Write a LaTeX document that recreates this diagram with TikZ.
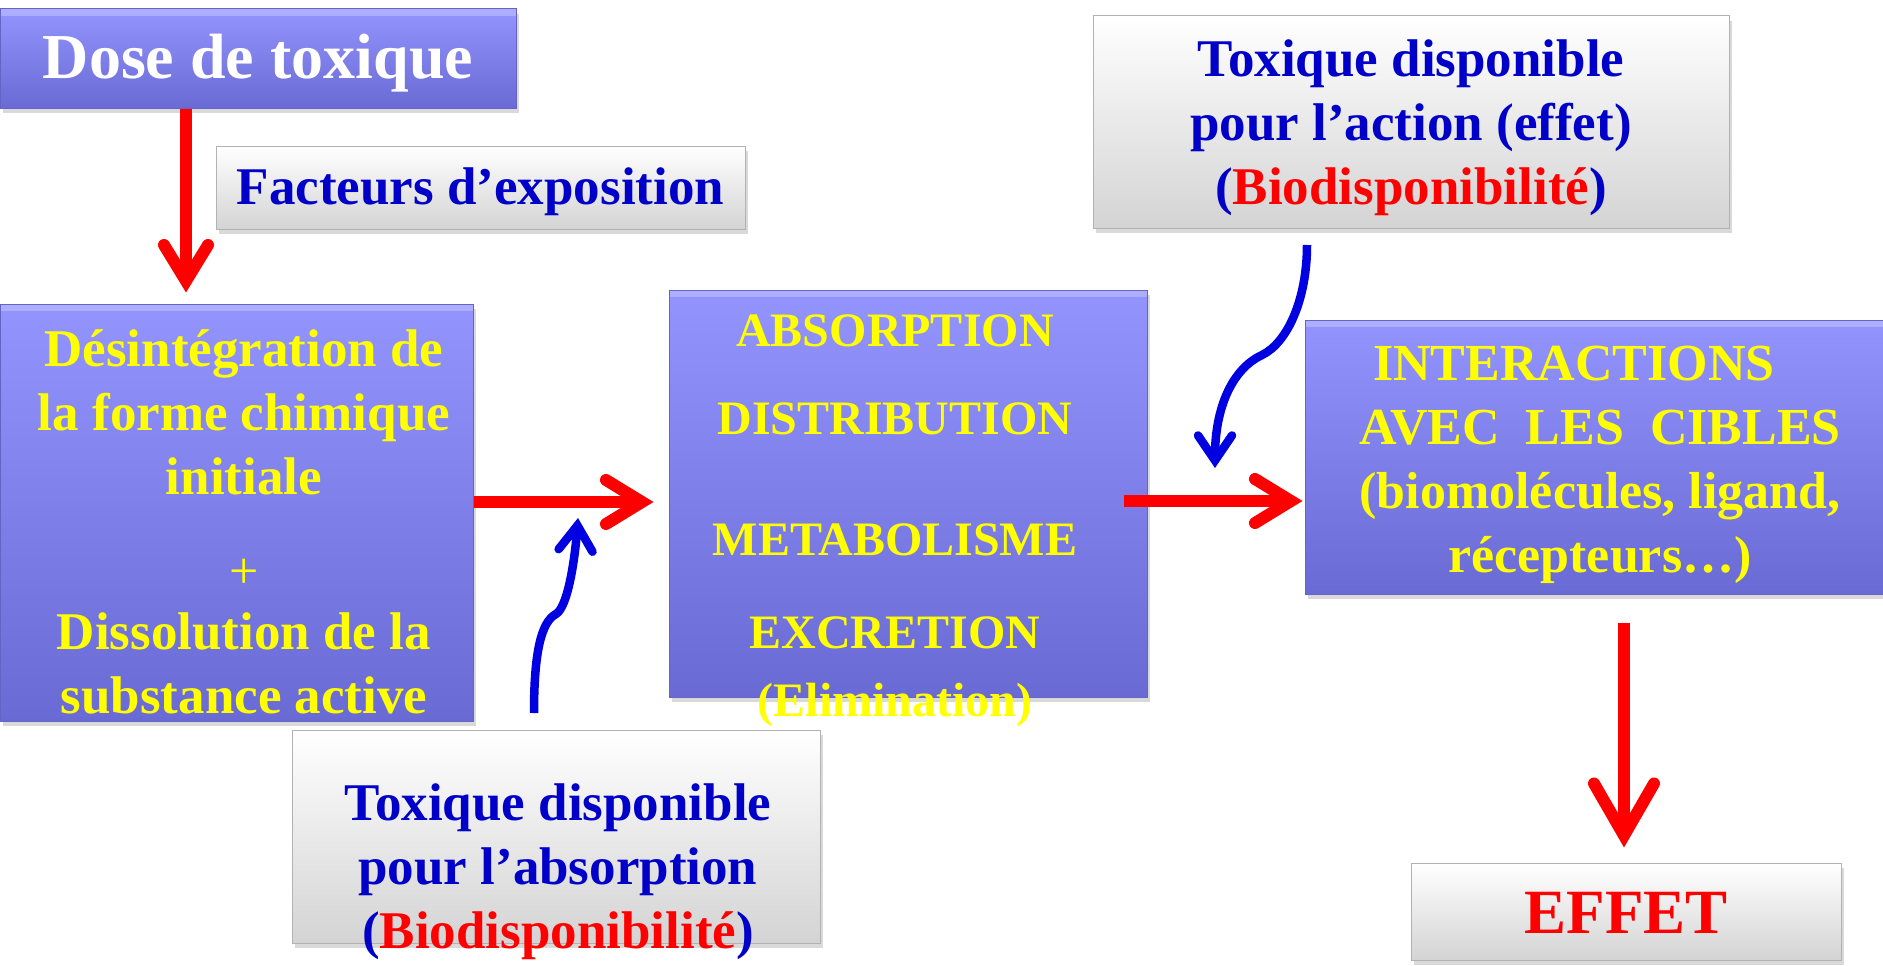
\documentclass[tikz,border=0pt]{standalone}
\usepackage{fontspec}
\setmainfont{Liberation Serif}
\usetikzlibrary{arrows.meta,shadows}
\definecolor{boxtop}{RGB}{148,148,255}
\definecolor{boxbot}{RGB}{106,106,212}
\definecolor{boxline}{RGB}{100,100,196}
\definecolor{txtblue}{RGB}{0,0,200}
\definecolor{txtyellow}{RGB}{255,255,0}
\definecolor{arrred}{RGB}{255,0,0}
\definecolor{arrblue}{RGB}{0,0,225}
\begin{document}
\begin{tikzpicture}[x=1pt,y=-1pt,
  pb/.style={draw=boxline,line width=1pt,top color=boxtop,bottom color=boxbot,inner sep=0pt,
    drop shadow={shadow xshift=3pt,shadow yshift=-5pt,opacity=.3},
    path picture={\fill[white,opacity=.25] (path picture bounding box.north west) rectangle ([yshift=-7pt]path picture bounding box.north east);}},
  wb/.style={draw=black!30,line width=1pt,top color=white,bottom color=black!17,inner sep=0pt,
    drop shadow={shadow xshift=3pt,shadow yshift=-5pt,opacity=.3}},
  yt/.style={text=txtyellow,font=\bfseries\fontsize{53}{64}\selectfont,align=center,inner sep=0pt},
  bt/.style={text=txtblue,font=\bfseries\fontsize{53}{64}\selectfont,align=center,inner sep=0pt},
  redarr/.style={draw=arrred,line width=12pt,-{Straight Barb[length=36pt,width=44pt,line cap=round,line join=miter]}},
  bluearr/.style={draw=arrblue,line width=8.5pt,-{Straight Barb[length=25pt,width=34pt,line cap=round,line join=miter]}}]
  \useasboundingbox (0,0) rectangle (1883,966);
  % boites
  \node[pb,minimum width=516pt,minimum height=99pt,text=white,font=\bfseries\fontsize{64}{76}\selectfont,text height=48pt,text depth=7pt] (dose) at (258,58.5){Dose de toxique};
  \node[wb,minimum width=529pt,minimum height=83pt,text=txtblue,font=\bfseries\fontsize{53}{64}\selectfont,text height=40pt,text depth=7pt] (fact) at (480.5,187.5){Facteurs d’exposition};
  \node[pb,minimum width=473pt,minimum height=417pt] (desint) at (236.5,512.5){};
  \node[pb,minimum width=478pt,minimum height=407pt] (mid) at (908,493.5){};
  \node[pb,minimum width=578pt,minimum height=274pt] (inter) at (1594,457){};
  \node[wb,minimum width=636pt,minimum height=212pt] (action) at (1411,122){};
  \node[wb,minimum width=528pt,minimum height=213pt] (absorb) at (556,836.5){};
  \node[wb,minimum width=430pt,minimum height=97pt,text=arrred,font=\bfseries\fontsize{63}{76}\selectfont,text height=48pt,text depth=5pt] (effet) at (1626,911.5){EFFET};
  % textes
  \node[yt] (desinttxt) at ([xshift=7.5pt,yshift=-9pt]desint.center){Désintégration de\\la forme chimique\\initiale\\[30pt]{\mdseries\fontsize{52}{60}\selectfont +}\\[-3pt]Dissolution de la\\substance active};
  \node[yt,font=\bfseries\fontsize{48}{58}\selectfont] (midtxt) at ([xshift=-13pt,yshift=-27.5pt]mid.center){ABSORPTION\\[30pt]DISTRIBUTION\\[63pt]METABOLISME\\[35pt]EXCRETION\\[10pt](Elimination)};
  \node[yt,font=\bfseries\fontsize{52}{64}\selectfont] (intertxt) at ([xshift=6pt,yshift=-7.5pt]inter.center){INTERACTIONS\hspace*{1em}\\AVEC~~LES~~CIBLES\\(biomolécules, ligand,\\récepteurs…)};
  \node[bt] (actiontxt) at ([yshift=-6pt]action.center){Toxique disponible\\pour l’action (effet)\\(\textcolor{arrred}{Biodisponibilité})};
  \node[bt] (absorbtxt) at ([xshift=2pt,yshift=-35.5pt]absorb.center){Toxique disponible\\pour l’absorption\\(\textcolor{arrred}{Biodisponibilité})};
  % fleches
  \draw[redarr] ([xshift=-72pt]dose.south) -- ([xshift=-50.5pt,yshift=11pt]desint.north);
  \draw[redarr] ([yshift=10.5pt]desint.east) -- ([xshift=-15pt,yshift=-8.5pt]mid.west);
  \draw[redarr] ([xshift=-24pt,yshift=-7.5pt]mid.east) -- ([xshift=-2pt,yshift=-44pt]inter.west);
  \draw[redarr,-{Straight Barb[length=52pt,width=60pt,line cap=round,line join=miter]}] ([xshift=30pt,yshift=-28pt]inter.south) -- ([xshift=-2pt,yshift=15pt]effet.north);
  \coordinate (absfoot) at (534,713);
  \coordinate (abstip) at (578,518);
  \coordinate (actfoot) at (1307,245);
  \coordinate (acttip) at (1215,468);
  \draw[bluearr] (absfoot) .. controls +(0,-60) and +(-15,8) .. (556,614) .. controls +(12,-7) and +(-3,40) .. (abstip);
  \draw[bluearr] (actfoot) .. controls +(0,55) and +(25,-12) .. (1262,355) .. controls +(-30,14) and +(0,-60) .. (acttip);
\end{tikzpicture}
\end{document}
